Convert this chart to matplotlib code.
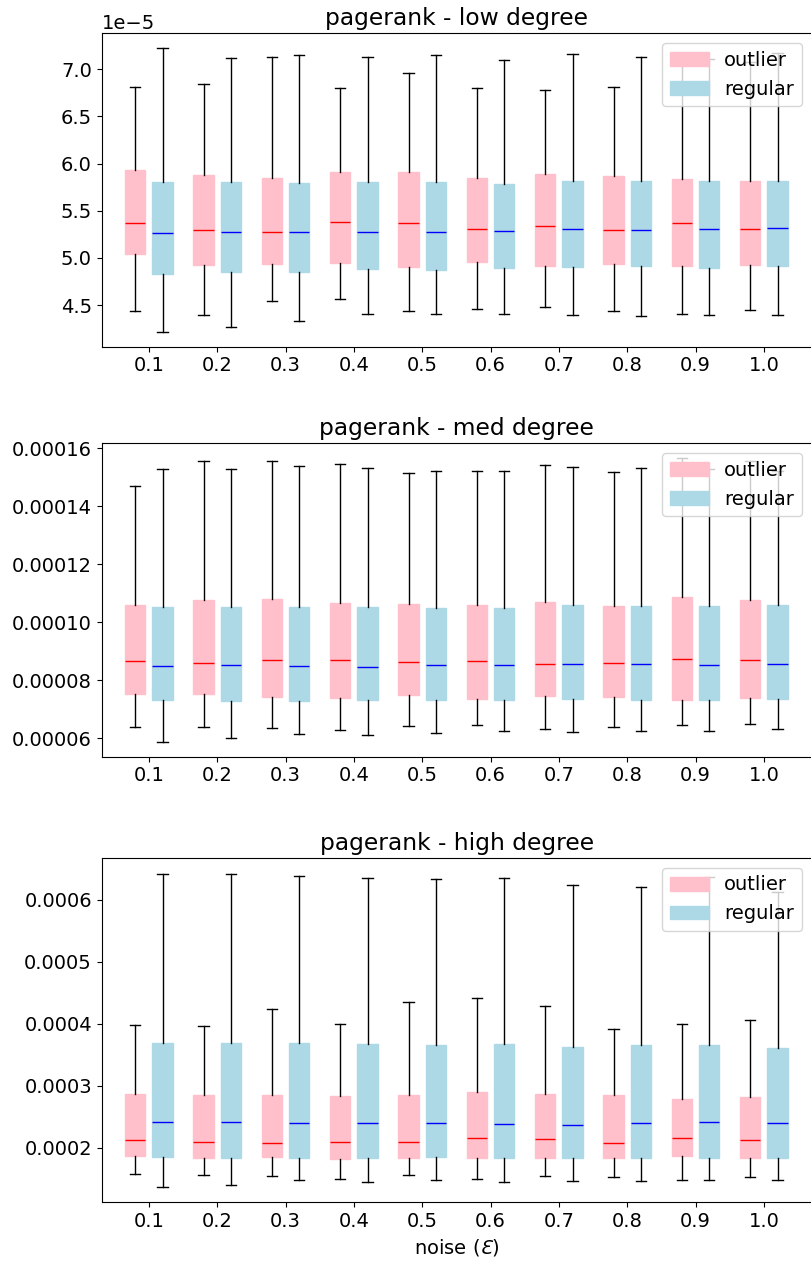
import matplotlib
matplotlib.use("Agg")
import matplotlib.pyplot as plt
import numpy as np

plt.rcParams['font.size'] = 14

noise_labels = ['0.1', '0.2', '0.3', '0.4', '0.5', '0.6', '0.7', '0.8', '0.9', '1.0']
titles = ['pagerank - low degree', 'pagerank - med degree', 'pagerank - high degree']
scales = [1e-5, 1e-5, 1e-4]

# ---- low degree (x1e-5) ----
low_out_hi = [6.81, 6.84, 7.13, 6.80, 6.96, 6.80, 6.78, 6.81, 7.10, 7.08]
low_out_q3 = [5.93, 5.88, 5.85, 5.91, 5.91, 5.85, 5.89, 5.87, 5.84, 5.82]
low_out_med = [5.37, 5.30, 5.28, 5.38, 5.37, 5.31, 5.34, 5.30, 5.37, 5.31]
low_out_q1 = [5.04, 4.93, 4.94, 4.95, 4.90, 4.96, 4.91, 4.94, 4.91, 4.93]
low_out_lo = [4.44, 4.39, 4.54, 4.56, 4.44, 4.46, 4.48, 4.44, 4.41, 4.45]
low_reg_hi = [7.23, 7.12, 7.15, 7.13, 7.15, 7.10, 7.16, 7.13, 7.11, 7.17]
low_reg_q3 = [5.80, 5.80, 5.79, 5.80, 5.81, 5.78, 5.82, 5.82, 5.82, 5.82]
low_reg_med = [5.26, 5.27, 5.27, 5.27, 5.27, 5.29, 5.31, 5.30, 5.31, 5.32]
low_reg_q1 = [4.83, 4.85, 4.85, 4.88, 4.87, 4.89, 4.90, 4.91, 4.89, 4.91]
low_reg_lo = [4.21, 4.27, 4.33, 4.41, 4.41, 4.41, 4.39, 4.38, 4.39, 4.40]

# ---- med degree (x1e-5) ----
med_out_hi = [14.69, 15.56, 15.55, 15.46, 15.15, 15.21, 15.44, 15.19, 15.68, 15.56]
med_out_q3 = [10.59, 10.78, 10.81, 10.66, 10.62, 10.60, 10.70, 10.57, 10.87, 10.77]
med_out_med = [8.66, 8.58, 8.69, 8.71, 8.61, 8.65, 8.54, 8.60, 8.74, 8.69]
med_out_q1 = [7.53, 7.53, 7.43, 7.40, 7.49, 7.34, 7.45, 7.43, 7.33, 7.39]
med_out_lo = [6.40, 6.38, 6.36, 6.27, 6.42, 6.44, 6.32, 6.39, 6.45, 6.50]
med_reg_hi = [15.28, 15.30, 15.39, 15.31, 15.20, 15.23, 15.36, 15.32, 15.28, 15.20]
med_reg_q3 = [10.51, 10.51, 10.54, 10.54, 10.49, 10.50, 10.58, 10.56, 10.56, 10.60]
med_reg_med = [8.50, 8.53, 8.50, 8.47, 8.51, 8.53, 8.54, 8.55, 8.53, 8.55]
med_reg_q1 = [7.31, 7.28, 7.27, 7.32, 7.32, 7.32, 7.34, 7.32, 7.33, 7.35]
med_reg_lo = [5.85, 6.01, 6.13, 6.10, 6.18, 6.26, 6.21, 6.23, 6.25, 6.31]

# ---- high degree (x1e-4) ----
high_out_hi = [3.98, 3.97, 4.23, 3.99, 4.35, 4.41, 4.28, 3.92, 4.00, 4.06]
high_out_q3 = [2.86, 2.85, 2.85, 2.83, 2.85, 2.90, 2.86, 2.85, 2.78, 2.82]
high_out_med = [2.13, 2.09, 2.07, 2.09, 2.09, 2.16, 2.14, 2.08, 2.15, 2.12]
high_out_q1 = [1.87, 1.84, 1.85, 1.81, 1.83, 1.83, 1.84, 1.84, 1.86, 1.84]
high_out_lo = [1.57, 1.56, 1.54, 1.49, 1.56, 1.50, 1.54, 1.52, 1.47, 1.53]
high_reg_hi = [6.41, 6.42, 6.39, 6.35, 6.34, 6.35, 6.23, 6.20, 6.37, 6.13]
high_reg_q3 = [3.69, 3.69, 3.68, 3.67, 3.66, 3.67, 3.63, 3.66, 3.66, 3.61]
high_reg_med = [2.41, 2.41, 2.39, 2.39, 2.40, 2.38, 2.37, 2.39, 2.41, 2.39]
high_reg_q1 = [1.85, 1.84, 1.83, 1.84, 1.85, 1.84, 1.84, 1.84, 1.84, 1.83]
high_reg_lo = [1.37, 1.39, 1.47, 1.44, 1.48, 1.44, 1.46, 1.46, 1.47, 1.47]

panels = [
    ((low_out_lo, low_out_q1, low_out_med, low_out_q3, low_out_hi),
     (low_reg_lo, low_reg_q1, low_reg_med, low_reg_q3, low_reg_hi)),
    ((med_out_lo, med_out_q1, med_out_med, med_out_q3, med_out_hi),
     (med_reg_lo, med_reg_q1, med_reg_med, med_reg_q3, med_reg_hi)),
    ((high_out_lo, high_out_q1, high_out_med, high_out_q3, high_out_hi),
     (high_reg_lo, high_reg_q1, high_reg_med, high_reg_q3, high_reg_hi)),
]


def make_stats(series, scale):
    lo, q1, med, q3, hi = series
    out = []
    for i in range(len(med)):
        out.append(dict(whislo=lo[i] * scale, q1=q1[i] * scale, med=med[i] * scale,
                        q3=q3[i] * scale, whishi=hi[i] * scale, fliers=[]))
    return out


W, H = 812, 1262
fig = plt.figure(figsize=(W / 100, H / 100), dpi=100)
rects = [
    (101.7 / W, 1 - 346.7 / H, 710.0 / W, 313.4 / H),
    (101.7 / W, 1 - 756.7 / H, 710.0 / W, 313.4 / H),
    (101.7 / W, 1 - 1202.3 / H, 710.0 / W, 344.3 / H),
]

x = np.arange(1, len(noise_labels) + 1)
for k, ((out_s, reg_s), rect) in enumerate(zip(panels, rects)):
    ax = fig.add_axes(rect)
    sc = scales[k]
    b1 = ax.bxp(make_stats(out_s, sc), positions=x - 0.2, widths=0.3, patch_artist=True,
                showfliers=False, manage_ticks=False,
                boxprops=dict(facecolor='pink', edgecolor='pink'),
                medianprops=dict(color='red'))
    b2 = ax.bxp(make_stats(reg_s, sc), positions=x + 0.2, widths=0.3, patch_artist=True,
                showfliers=False, manage_ticks=False,
                boxprops=dict(facecolor='lightblue', edgecolor='lightblue'),
                medianprops=dict(color='blue'))
    ax.set_xticks(x)
    ax.set_xticklabels(noise_labels)
    ax.set_xlim(0.31, 10.7)
    ax.set_title(titles[k], fontsize=16.8)
    ax.legend([b1['boxes'][0], b2['boxes'][0]], ['outlier', 'regular'], loc='upper right')
    if k == 2:
        ax.set_xlabel('noise ($Ɛ$)')

fig.savefig('out.png', dpi=100)
